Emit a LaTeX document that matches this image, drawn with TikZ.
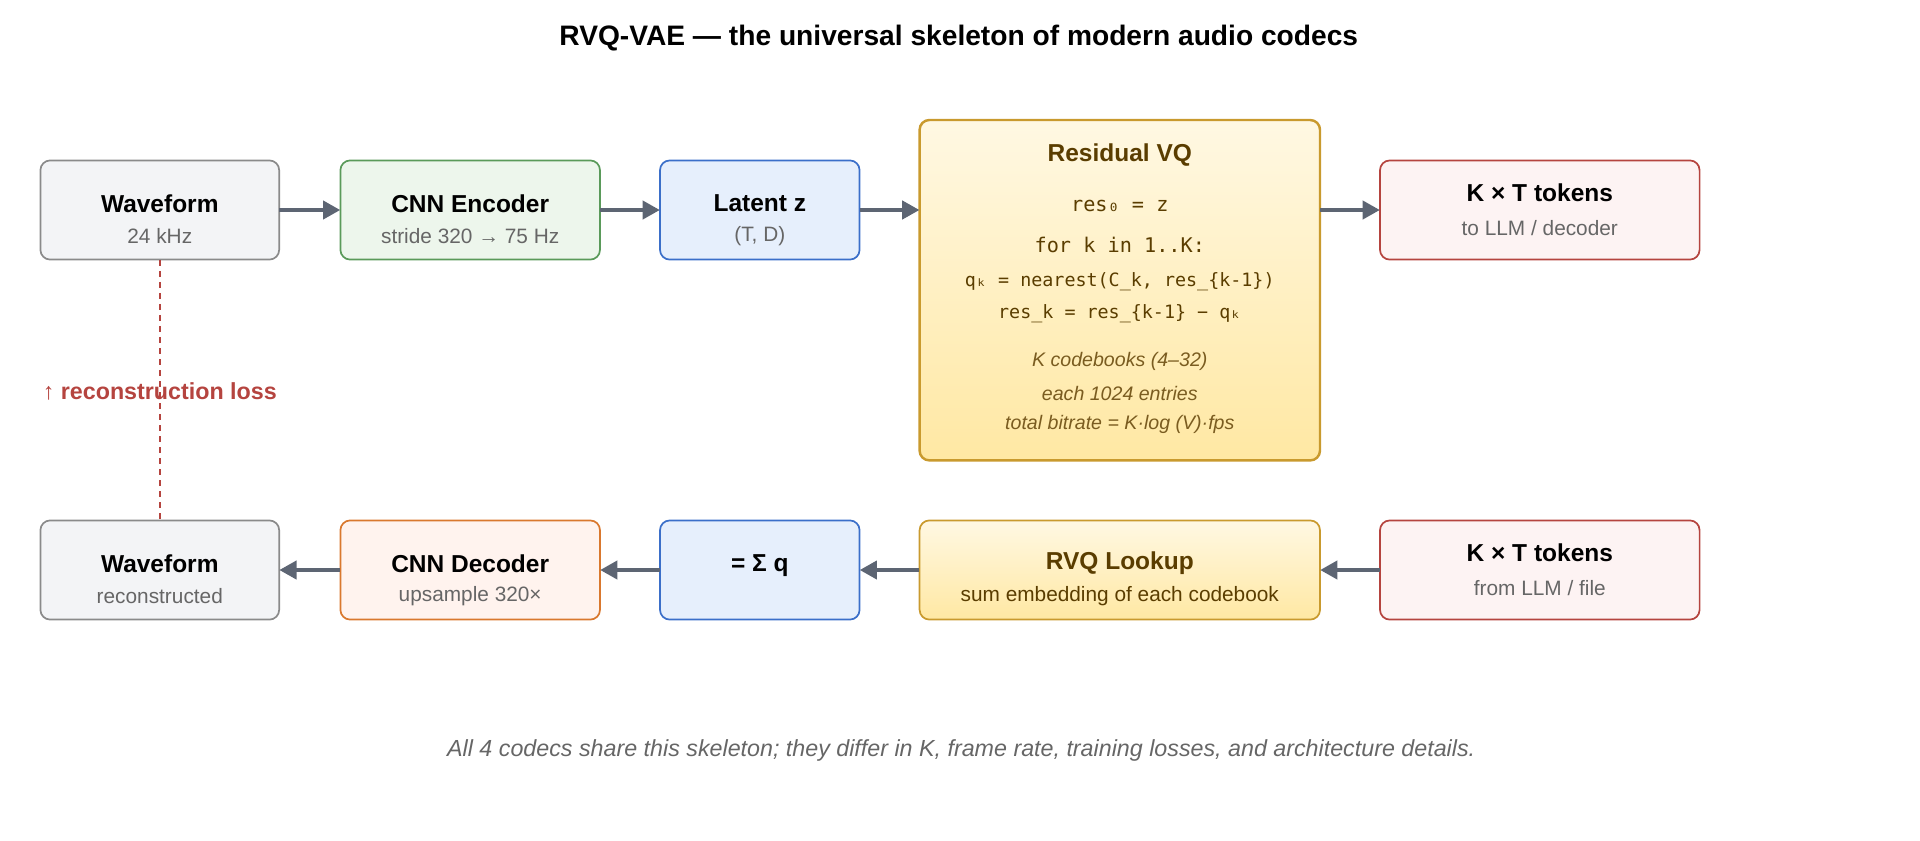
\documentclass[tikz,border=0pt]{standalone}
\usepackage{fontspec}
\setmainfont{Liberation Sans}
\newfontfamily\monof{DejaVu Sans Mono}
\usetikzlibrary{arrows.meta}
\definecolor{arr}{HTML}{5D6573}
\definecolor{gF}{HTML}{F3F4F6}\definecolor{gD}{HTML}{8A8A8A}
\definecolor{grF}{HTML}{EDF6EC}\definecolor{grD}{HTML}{5A9A5A}
\definecolor{bF}{HTML}{E6EFFC}\definecolor{bD}{HTML}{3B6FC9}
\definecolor{yT}{HTML}{FFF8E3}\definecolor{yB}{HTML}{FFE8A3}\definecolor{yD}{HTML}{C99A2E}
\definecolor{rF}{HTML}{FDF3F3}\definecolor{rD}{HTML}{B5443F}
\definecolor{oF}{HTML}{FFF3EE}\definecolor{oD}{HTML}{D9782E}
\definecolor{sub}{HTML}{666666}\definecolor{brn}{HTML}{5A3D00}\definecolor{brI}{HTML}{7A5C20}
\definecolor{lossc}{HTML}{B5443F}
\begin{document}
\begin{tikzpicture}[x=1pt,y=-1pt,
 box/.style={draw,line width=1.4pt,rounded corners=8pt},
 ttl/.style={font=\fontsize{20}{24}\selectfont\bfseries,text=black},
 st/.style={font=\fontsize{17}{20}\selectfont,text=sub},
 mono/.style={font=\fontsize{16.5}{20}\selectfont\monof,text=brn},
 it/.style={font=\fontsize{16}{20}\selectfont\itshape,text=brI},
 ar/.style={draw=arr,line width=2.6pt,-{Triangle[length=14pt,width=15pt]}}]
\useasboundingbox (0,0) rectangle (1568,686);
\node[font=\fontsize{23}{28}\selectfont\bfseries] (title) at (783,31) {RVQ-VAE — the universal skeleton of modern audio codecs};
% top row
\draw[box,draw=gD,fill=gF] (33,131) rectangle (228,212) node[midway,coordinate] (w1c) {};
\node[minimum width=195pt,minimum height=81pt] (w1) at (130.5,171.5) {};
\node[ttl] at (130.5,166) {Waveform};\node[st] at (130.5,193) {24 kHz};
\draw[box,draw=grD,fill=grF] (278,131) rectangle (490,212);
\node[minimum width=212pt,minimum height=81pt] (enc) at (384,171.5) {};
\node[ttl] at (384,166) {CNN Encoder};\node[st] at (384,193) {stride 320 → 75 Hz};
\draw[box,draw=bD,fill=bF] (539,131) rectangle (702,212);
\node[minimum width=163pt,minimum height=81pt] (lat) at (620.5,171.5) {};
\node[ttl] at (620.5,166) {Latent z};\node[st] at (620.5,193) {(T, D)};
\draw[box,draw=yD,top color=yT,bottom color=yB,line width=2pt] (751,98) rectangle (1078,376);
\node[minimum width=327pt,minimum height=278pt] (rvq) at (914.5,237) {};
\node[ttl,text=brn] at (914.5,127) {Residual VQ};
\node[mono] at (914.5,168) {res₀ = z};
\node[mono] at (914.5,200) {for k in 1..K:};
\node[mono,font=\fontsize{15}{18}\selectfont\monof] at (914.5,230) {qₖ = nearest(C\_k, res\_\{k-1\})};
\node[mono,font=\fontsize{15}{18}\selectfont\monof] at (914.5,256) {res\_k = res\_\{k-1\} − qₖ};
\node[it] at (914.5,295) {K codebooks (4–32)};
\node[it] at (914.5,321) {each 1024 entries};
\node[it] at (914.5,347) {total bitrate = K·log (V)·fps};
\draw[box,draw=rD,fill=rF] (1127,131) rectangle (1388,212);
\node[minimum width=261pt,minimum height=81pt] (tok1) at (1257.5,171.5) {};
\node[ttl] at (1257.5,157) {K × T tokens};\node[st] at (1257.5,186) {to LLM / decoder};
% bottom row
\draw[box,draw=gD,fill=gF] (33,425) rectangle (228,506);
\node[minimum width=195pt,minimum height=81pt] (w2) at (130.5,465.5) {};
\node[ttl] at (130.5,460) {Waveform};\node[st] at (130.5,487) {reconstructed};
\draw[box,draw=oD,fill=oF] (278,425) rectangle (490,506);
\node[minimum width=212pt,minimum height=81pt] (dec) at (384,465.5) {};
\node[ttl] at (384,460) {CNN Decoder};\node[st] at (384,487) {upsample 320×};
\draw[box,draw=bD,fill=bF] (539,425) rectangle (702,506);
\node[minimum width=163pt,minimum height=81pt] (sum) at (620.5,465.5) {};
\node[ttl] at (620.5,462) {= Σ q};
\draw[box,draw=yD,top color=yT,bottom color=yB] (751,425) rectangle (1078,506);
\node[minimum width=327pt,minimum height=81pt] (look) at (914.5,465.5) {};
\node[ttl,text=brn] at (914.5,460) {RVQ Lookup};
\node[st,text=brn] at (914.5,487) {sum embedding of each codebook};
\draw[box,draw=rD,fill=rF] (1127,425) rectangle (1388,506);
\node[minimum width=261pt,minimum height=81pt] (tok2) at (1257.5,465.5) {};
\node[ttl] at (1257.5,451) {K × T tokens};\node[st] at (1257.5,480) {from LLM / file};
% arrows
\draw[ar] (w1.east) -- (enc.west);
\draw[ar] (enc.east) -- (lat.west);
\draw[ar] (lat.east) -- (lat.east -| rvq.west);
\draw[ar] (tok1.west -| rvq.east) -- (tok1.west);
\draw[ar] (tok2.west) -- (look.east);
\draw[ar] (look.west) -- (sum.east);
\draw[ar] (sum.west) -- (dec.east);
\draw[ar] (dec.west) -- (w2.east);
\draw[lossc,line width=1.3pt,dash pattern=on 5pt off 4pt] (w1.south) -- (w2.north);
\node[font=\fontsize{19}{22}\selectfont\bfseries,text=lossc] (loss) at (130.5,320) {↑ reconstruction loss};
\node[font=\fontsize{19}{22}\selectfont\itshape,text=sub] (foot) at (785,613) {All 4 codecs share this skeleton; they differ in K, frame rate, training losses, and architecture details.};
\end{tikzpicture}
\end{document}
